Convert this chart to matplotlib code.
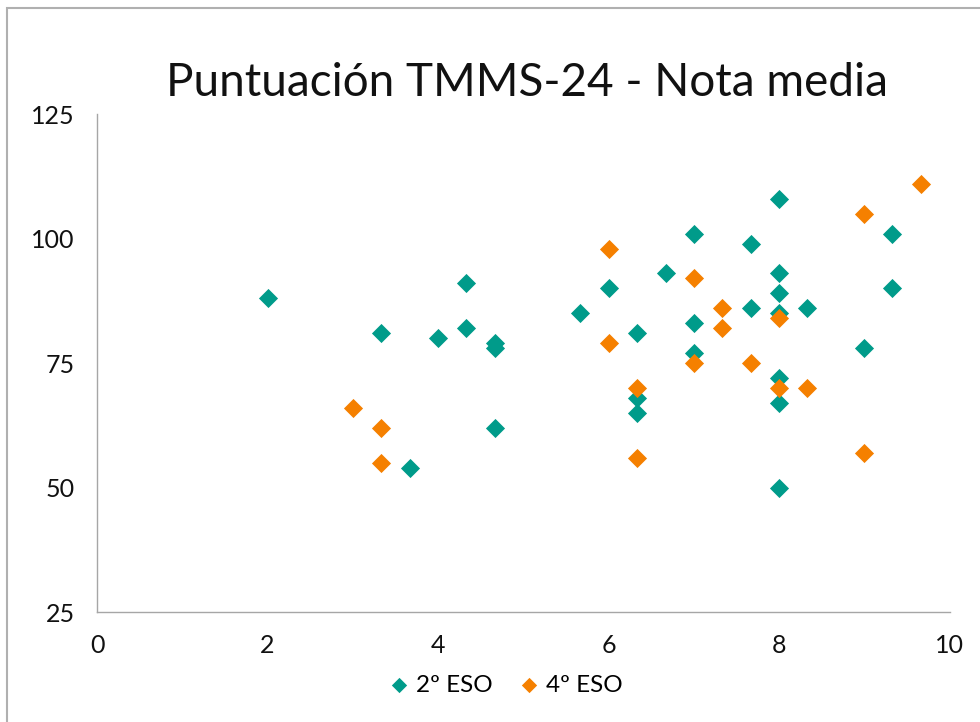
import matplotlib.pyplot as plt
from matplotlib.patches import Rectangle

# 2º ESO
x_2eso = [2, 3.33, 3.67, 4, 4.33, 4.33, 4.67, 4.67, 4.67, 5.67, 6, 6.33, 6.33, 6.33, 6.67,
          7, 7, 7, 7.67, 7.67, 8, 8, 8, 8, 8, 8, 8, 8.33, 9, 9.33, 9.33]
y_2eso = [88, 81, 54, 80, 91, 82, 79, 78, 62, 85, 90, 81, 68, 65, 93,
          101, 83, 77, 99, 86, 108, 93, 89, 85, 72, 67, 50, 86, 78, 101, 90]

# 4º ESO
x_4eso = [3, 3.33, 3.33, 6, 6, 6.33, 6.33, 7, 7, 7.33, 7.33, 7.67, 8, 8, 8.33, 9, 9, 9.67]
y_4eso = [66, 62, 55, 98, 79, 70, 56, 92, 75, 86, 82, 75, 84, 70, 70, 105, 57, 111]

x_ticks = [0, 2, 4, 6, 8, 10]
y_ticks = [25, 50, 75, 100, 125]

TEAL = "#009B8A"
ORANGE = "#F58000"
GRAY = "#A6A6A6"

plt.rcParams["font.family"] = ["Lato", "DejaVu Sans"]

fig = plt.figure(figsize=(9.8, 7.22), dpi=100)

# outer chart border
fig.patches.append(Rectangle((7 / 980, -0.05), 1.0, 1 - 8 / 722 + 0.05,
                             transform=fig.transFigure, fill=False,
                             edgecolor="#B0B0B0", linewidth=1.5))

ax = fig.add_axes([0.099, 0.152, 0.870, 0.690])
ax.scatter(x_2eso, y_2eso, marker="D", s=95, color=TEAL, linewidths=0, label="2º ESO", zorder=3)
ax.scatter(x_4eso, y_4eso, marker="D", s=95, color=ORANGE, linewidths=0, label="4º ESO", zorder=3)

ax.set_xlim(0, 10)
ax.set_ylim(25, 125)
ax.set_xticks(x_ticks)
ax.set_yticks(y_ticks)
ax.tick_params(labelsize=18, colors="#111111", length=0, pad=16)

for side in ["top", "right"]:
    ax.spines[side].set_visible(False)
for side in ["left", "bottom"]:
    ax.spines[side].set_color(GRAY)
    ax.spines[side].set_linewidth(1)

fig.text(0.538, 0.885, "Puntuación TMMS-24 - Nota media", ha="center", va="center",
         fontsize=33, color="#111111")

fig.legend(loc="center", bbox_to_anchor=(0.514, 0.051), ncol=2, frameon=False,
           fontsize=17.5, handlelength=1.2, handletextpad=0.1, columnspacing=0.9,
           markerscale=0.8)

fig.savefig("out.png", dpi=100)
